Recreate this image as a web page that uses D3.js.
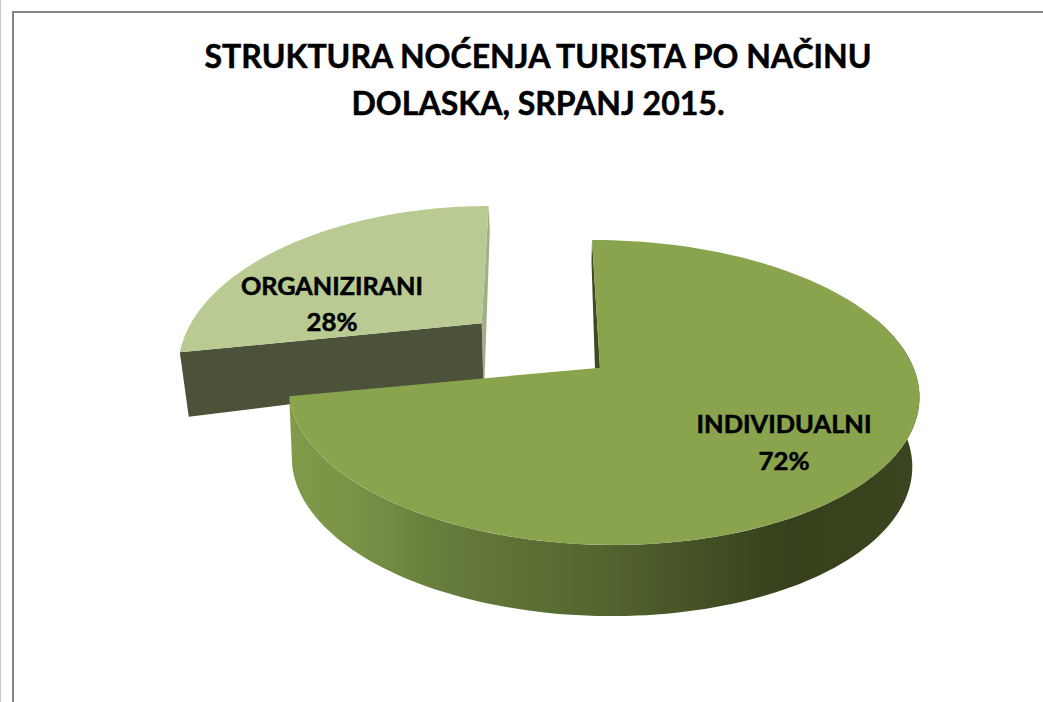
<!DOCTYPE html>
<html><head><meta charset="utf-8">
<script src="https://cdn.jsdelivr.net/npm/d3@7/dist/d3.min.js"></script>
<style>html,body{margin:0;padding:0;background:#fff}svg{display:block}text{font-family:Lato,sans-serif;font-weight:700;fill:#000;text-anchor:middle;stroke:#000;stroke-width:.5px}</style>
</head><body><script>
const categories = ["INDIVIDUALNI", "ORGANIZIRANI"];
const seriesValues = [72, 28];
const percentLabels = ["72%", "28%"];
const titleLines = ["STRUKTURA NOĆENJA TURISTA PO NAČINU", "DOLASKA, SRPANJ 2015."];

const W = 1043, H = 702;
const svg = d3.select("body").append("svg").attr("width", W).attr("height", H);
const defs = svg.append("defs");

// frame
svg.append("rect").attr("x",0).attr("y",0).attr("width",1).attr("height",H).attr("fill","#c8c8c8");
svg.append("rect").attr("x",12).attr("y",11).attr("width",2).attr("height",H-11).attr("fill","#868686");
svg.append("rect").attr("x",12).attr("y",11).attr("width",W-12).attr("height",2).attr("fill","#868686");

// perspective views of the discs
const views = {
  main: {top:{cx:600,cy:367.7,R:311,Q:148.4,S:-9.3,k:.1625,t:-.008},
         bot:{cx:598,cy:437,R:306,Q:150,S:-9,k:.1625,t:-.008}},
  light:{top:{cx:481.7,cy:323.3,R:290.8,Q:147.5,S:8.7,k:.258,t:0},
         bot:{cx:483.3,cy:380,R:285,Q:187,S:2,k:.258,t:0}}
};
const project = (p, a) => {
  const u = Math.sin(a), v = Math.cos(a), w = 1 + p.k*v + p.t*u;
  return [p.cx + (p.R*u + p.S*v)/w, p.cy - p.Q*v/w];
};
const rim = (p, a0, a1) => d3.range(0, 121).map(i => project(p, a0 + (a1-a0)*i/120));
const line = d3.line();

const arcs = d3.pie().sort(null)(seriesValues);
const mainArc = arcs[0], lightArc = arcs[1];

const grad = defs.append("linearGradient").attr("id","wall").attr("gradientUnits","userSpaceOnUse")
  .attr("x1",288).attr("x2",918).attr("y1",0).attr("y2",0);
[[0,"#809b4a"],[.1,"#7a9346"],[.27,"#647a3a"],[.5,"#546530"],[.7,"#3f4b22"],[.8,"#36401c"],[1,"#3b4620"]]
  .forEach(s=>grad.append("stop").attr("offset",s[0]).attr("stop-color",s[1]));

// light slice: side strip, cut wall, top
{
  const v = views.light, a = lightArc.startAngle;
  const p0 = project(v.top, a), p1 = project(v.bot, a);
  const e0 = project(v.top, lightArc.endAngle);
  svg.append("path").attr("fill","#a1ae88")
    .attr("d", line([e0,[v.top.cx,v.top.cy],[v.bot.cx,v.bot.cy],[v.bot.cx+1.2,v.bot.cy],[e0[0]+1.2,e0[1]+24]])+"Z");
  svg.append("path").attr("fill","#4c523a")
    .attr("d", line([[v.top.cx,v.top.cy],p0,p1,[v.bot.cx,v.bot.cy]])+"Z");
  svg.append("path").attr("fill","#b9ca93")
    .attr("d", line([[v.top.cx,v.top.cy],...rim(v.top,a,lightArc.endAngle)])+"Z");
}
// main slice: outer wall, inner strip, top
{
  const v = views.main, a0 = mainArc.startAngle, a1 = mainArc.endAngle;
  const wa = Math.PI*70/180;
  svg.append("path").attr("fill","url(#wall)")
    .attr("d", line([...rim(v.top,wa,a1),...rim(v.bot,wa,a1).reverse()])+"Z");
  const e = project(v.top,a0);
  svg.append("path").attr("fill","#3f4a22")
    .attr("d", line([e,[v.top.cx,v.top.cy],[v.top.cx-5,v.top.cy+1],[e[0]-.5,e[1]+22]])+"Z");
  svg.append("path").attr("fill","#89a44d")
    .attr("d", line([[v.top.cx,v.top.cy],...rim(v.top,a0,a1)])+"Z");
}

// title
const titleFit = [667, 373];
titleLines.forEach((t,i)=>svg.append("text").attr("x",538).attr("y",68+i*46.5)
  .attr("font-size",33).attr("textLength",titleFit[i]).attr("lengthAdjust","spacingAndGlyphs").text(t));

// labels
const labelPos = [[784,433,470],[332,295,331]], labelFit=[[175,51],[182,51]];
categories.forEach((c,i)=>{
  svg.append("text").attr("x",labelPos[i][0]).attr("y",labelPos[i][1]).attr("font-size",25)
    .attr("textLength",labelFit[i][0]).attr("lengthAdjust","spacingAndGlyphs").text(c);
  svg.append("text").attr("x",labelPos[i][0]).attr("y",labelPos[i][2]).attr("font-size",25)
    .attr("textLength",labelFit[i][1]).attr("lengthAdjust","spacingAndGlyphs").text(percentLabels[i]);
});
</script></body></html>
